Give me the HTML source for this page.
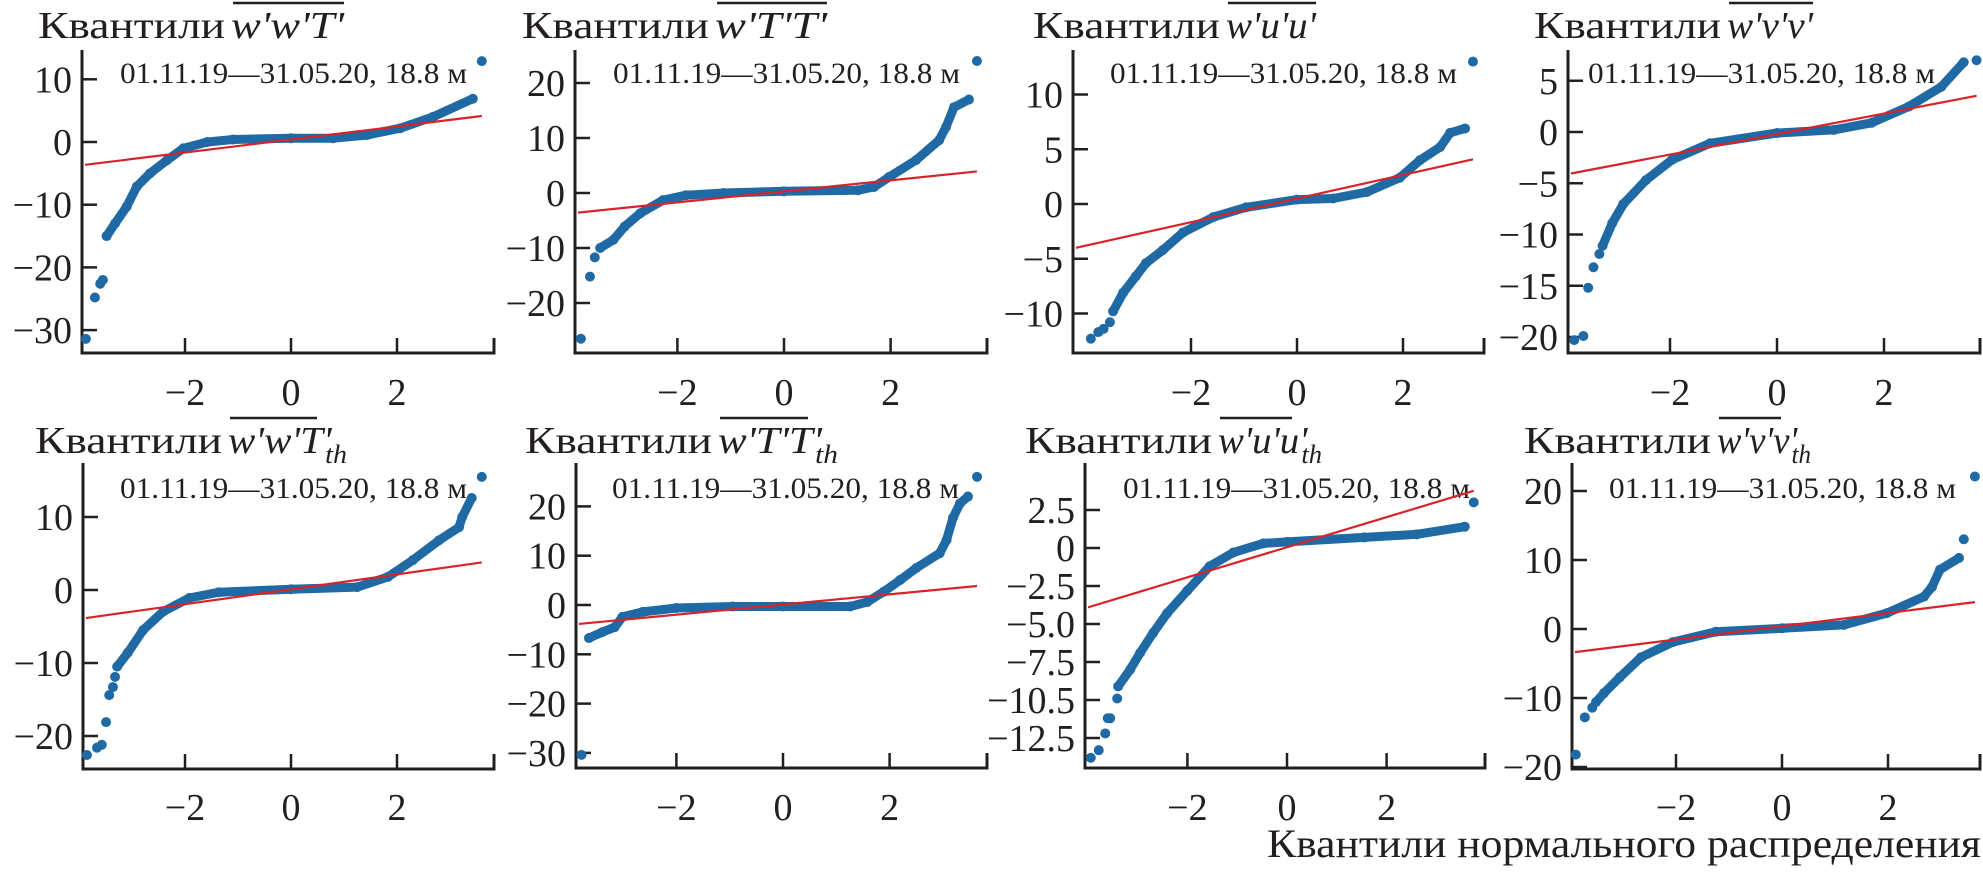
<!DOCTYPE html>
<html><head><meta charset="utf-8">
<style>
html,body{margin:0;padding:0;background:#fff;}
svg{display:block;}
text{font-family:"Liberation Serif","DejaVu Serif",serif;fill:#231f20;}
</style></head>
<body>
<svg id="chart" width="1983" height="872" viewBox="0 0 1983 872" xmlns="http://www.w3.org/2000/svg">
<text x="1267" y="857" font-size="40" textLength="714" lengthAdjust="spacingAndGlyphs">Квантили нормального распределения</text>
</svg>
<script>
// ---- data: theoretical quantiles (X) and sample quantiles (Y) ----
const p1X=[-3.48,-3.32,-3.1,-2.91,-2.66,-2.34,-2.03,-1.58,-1.09,0,0.8,1.43,2.06,2.68,3.43];
const p1Y=[-15,-13,-10.3,-7.1,-5,-2.9,-1,0,0.4,0.6,0.6,1.1,2.2,4,6.9];
const p1OX=[-3.87,-3.7,-3.6,-3.55,3.6];
const p1OY=[-31.4,-24.8,-22.6,-22,12.9];
const p2X=[-3.45,-3.2,-2.99,-2.7,-2.27,-1.84,-1.13,0,1.39,1.69,1.97,2.48,2.91,3.04,3.19,3.47];
const p2Y=[-10,-8.5,-6.1,-3.7,-1.3,-0.4,0,0.3,0.5,1.1,2.9,6,9.6,12,15.6,17];
const p2OX=[-3.81,-3.64,-3.55,3.62];
const p2OY=[-26.5,-15.2,-11.7,24];
const p3X=[-3.47,-3.28,-3.04,-2.85,-2.53,-2.15,-1.58,-0.96,0,0.68,1.32,1.94,2.32,2.7,2.89,3.17];
const p3Y=[-9.8,-8.1,-6.6,-5.4,-4.2,-2.6,-1.2,-0.3,0.4,0.5,1.1,2.4,4,5.2,6.5,6.9];
const p3OX=[-3.89,-3.75,-3.65,-3.53,3.32];
const p3OY=[-12.3,-11.7,-11.4,-10.8,13];
const p4X=[-3.26,-3.08,-2.87,-2.45,-1.96,-1.25,0,1.06,1.77,2.47,3.07,3.49];
const p4Y=[-11.1,-8.9,-7,-4.7,-2.7,-1.1,-0.1,0.2,0.9,2.5,4.4,6.8];
const p4OX=[-3.79,-3.62,-3.53,-3.43,-3.32,3.73];
const p4OY=[-20.3,-19.9,-15.2,-13.2,-11.9,7];
const p5X=[-3.28,-3.08,-2.79,-2.42,-1.92,-1.36,0,1.25,1.83,2.3,2.79,3.17,3.23,3.41];
const p5Y=[-10.5,-8.6,-5.5,-3,-1.1,-0.3,0.1,0.4,1.8,4.1,6.8,8.6,10,12.6];
const p5OX=[-3.85,-3.66,-3.57,-3.49,-3.43,-3.36,-3.32,3.6];
const p5OY=[-22.6,-21.6,-21.2,-18.1,-14.4,-13.3,-11.9,15.5];
const p6X=[-3.64,-3.39,-3.16,-3.01,-2.63,-2,-0.94,0,1.26,1.58,1.89,2.2,2.5,2.94,3.07,3.19,3.32,3.47];
const p6Y=[-6.7,-5.5,-4.5,-2.4,-1.4,-0.6,-0.3,-0.3,-0.3,0.6,2.7,5.1,7.5,10.5,13.2,17.7,20.6,22];
const p6OX=[-3.78,3.64];
const p6OY=[-30.4,26];
const p7X=[-3.39,-3.15,-2.95,-2.69,-2.41,-2,-1.55,-1.08,-0.48,0,1.55,2.61,3.57];
const p7Y=[-9.1,-8,-6.9,-5.6,-4.3,-2.8,-1.2,-0.3,0.3,0.4,0.7,0.9,1.4];
const p7OX=[-3.94,-3.78,-3.65,-3.6,-3.55,-3.41,3.75];
const p7OY=[-13.8,-13.3,-12.2,-11.2,-11.2,-9.9,3];
const p8X=[-3.51,-3.36,-3.06,-2.66,-2.06,-1.25,0,1.17,1.98,2.68,2.83,2.98,3.34];
const p8Y=[-10.6,-9.3,-7,-4.1,-1.9,-0.4,0.1,0.6,2.3,4.7,6.1,8.6,10.3];
const p8OX=[-3.89,-3.72,-3.58,3.43,3.64];
const p8OY=[-18.2,-12.8,-11.4,13,22.1];
// reference line: slope and intercept per panel
const lineSlope=[1.04,1.0,1.08,1.0,1.02,1.03,0.99,0.96];
const lineIntercept=[0.4,0.3,0.5,-0.2,0.1,0.1,0.05,0.4];
// tick values and labels
const xTicks=[-2,0,2];
const xTickLabels=["−2","0","2"];
const yT1=[10,0,-10,-20,-30], yL1=["10","0","−10","−20","−30"];
const yT2=[20,10,0,-10,-20], yL2=["20","10","0","−10","−20"];
const yT3=[10,5,0,-5,-10], yL3=["10","5","0","−5","−10"];
const yT4=[5,0,-5,-10,-15,-20], yL4=["5","0","−5","−10","−15","−20"];
const yT5=[10,0,-10,-20], yL5=["10","0","−10","−20"];
const yT6=[20,10,0,-10,-20,-30], yL6=["20","10","0","−10","−20","−30"];
const yT7=[2.5,0,-2.5,-5,-7.5,-10,-12.5], yL7=["2.5","0","−2.5","−5.0","−7.5","−10.5","−12.5"];
const yT8=[20,10,0,-10,-20], yL8=["20","10","0","−10","−20"];

// ---- layout (pixels) ----
const panels=[
 {id:"ww-T",ax:82,right:494,x0:291,ux:53,top:50,bot:353,y0:142,uy:6.27,X:p1X,Y:p1Y,OX:p1OX,OY:p1OY,yt:yT1,yl:yL1,tx:38,expr:"w'w'T'",sub:"",ew:113,annX:120},
 {id:"wT-T",ax:575,right:987,x0:784,ux:53.3,top:50,bot:353,y0:193,uy:5.5,X:p2X,Y:p2Y,OX:p2OX,OY:p2OY,yt:yT2,yl:yL2,tx:522,expr:"w'T'T'",sub:"",ew:112,annX:613},
 {id:"wu-u",ax:1073,right:1484,x0:1297,ux:53,top:50,bot:353,y0:204,uy:10.95,X:p3X,Y:p3Y,OX:p3OX,OY:p3OY,yt:yT3,yl:yL3,tx:1033,expr:"w'u'u'",sub:"",ew:90,annX:1110},
 {id:"wv-v",ax:1568,right:1980,x0:1777,ux:53.5,top:50,bot:353,y0:132,uy:10.25,X:p4X,Y:p4Y,OX:p4OX,OY:p4OY,yt:yT4,yl:yL4,tx:1534,expr:"w'v'v'",sub:"",ew:86,annX:1588},
 {id:"ww-Tth",ax:83,right:494,x0:291,ux:53,top:463,bot:769,y0:590,uy:7.3,X:p5X,Y:p5Y,OX:p5OX,OY:p5OY,yt:yT5,yl:yL5,tx:35,expr:"w'w'T'",sub:"th",ew:119,annX:120},
 {id:"wT-Tth",ax:576,right:987,x0:783,ux:53.3,top:463,bot:768,y0:605,uy:4.93,X:p6X,Y:p6Y,OX:p6OX,OY:p6OY,yt:yT6,yl:yL6,tx:525,expr:"w'T'T'",sub:"th",ew:120,annX:612},
 {id:"wu-uth",ax:1085,right:1485,x0:1287,ux:49.8,top:463,bot:768,y0:548,uy:15.2,X:p7X,Y:p7Y,OX:p7OX,OY:p7OY,yt:yT7,yl:yL7,tx:1025,expr:"w'u'u'",sub:"th",ew:104,annX:1123},
 {id:"wv-vth",ax:1572,right:1980,x0:1782,ux:53,top:463,bot:769,y0:629,uy:6.9,X:p8X,Y:p8Y,OX:p8OX,OY:p8OY,yt:yT8,yl:yL8,tx:1524,expr:"w'v'v'",sub:"th",ew:94,annX:1609}
];
const NS="http://www.w3.org/2000/svg";
const svg=document.getElementById("chart");
const BLUE="#1f6aa5", RED="#d8232a", INK="#231f20";
function mk(tag,attrs,parent){const e=document.createElementNS(NS,tag);for(const k in attrs)e.setAttribute(k,attrs[k]);(parent||svg).appendChild(e);return e;}

panels.forEach((p,i)=>{
  const g=mk("g",{});
  
  
  const sx=v=>p.x0+v*p.ux, sy=v=>p.y0-v*p.uy;
  const topRow=p.top<300;
  // title
  const tb=topRow?38:453;
  const t1=mk("text",{x:p.tx,y:tb,"font-size":38,textLength:187,lengthAdjust:"spacingAndGlyphs"},g);
  t1.textContent="Квантили";
  
  
  const ex=p.tx+193;
  const t2=mk("text",{x:ex,y:tb,"font-size":38,"font-style":"italic"},g);
  
  
  if(p.sub){
    const a=mk("tspan",{},t2);a.textContent=p.expr;
    const b=mk("tspan",{"font-size":26,dy:10,dx:-6},t2);b.textContent=p.sub;
  } else t2.textContent=p.expr;
  t2.setAttribute("textLength",p.ew);t2.setAttribute("lengthAdjust","spacingAndGlyphs");
  const ol=mk("line",{x1:ex+2,x2:ex+(p.sub?p.ew-30:p.ew),y1:tb-35,y2:tb-35,stroke:INK,"stroke-width":2.5},g);
  
  
  // annotation
  const an=mk("text",{x:p.annX,y:topRow?83:498,"font-size":30,textLength:347,lengthAdjust:"spacingAndGlyphs"},g);
  an.textContent="01.11.19—31.05.20, 18.8 м";
  
  
  // axes
  const axes=mk("path",{d:`M${p.ax},${p.top}V${p.bot}H${p.right}V${p.bot-15}`,fill:"none",stroke:INK,"stroke-width":3},g);
  
  
  xTicks.forEach((v,k)=>{
    const x=sx(v);
    const tk=mk("line",{x1:x,x2:x,y1:p.bot,y2:p.bot-15,stroke:INK,"stroke-width":2.5},g);
    
    
    const tl=mk("text",{x:x,y:topRow?405:820,"font-size":38,"text-anchor":"middle"},g);
    tl.textContent=xTickLabels[k];
    
    
  });
  p.yt.forEach((v,k)=>{
    const y=sy(v);
    const tk=mk("line",{x1:p.ax,x2:p.ax+15,y1:y,y2:y,stroke:INK,"stroke-width":2.5},g);
    
    
    const tl=mk("text",{x:p.ax-10,y:y+13,"font-size":38,"text-anchor":"end"},g);
    tl.textContent=p.yl[k];
    
    
  });
  // sample body
  let d="";
  p.X.forEach((v,k)=>{d+=(k?"L":"M")+sx(v).toFixed(1)+","+sy(p.Y[k]).toFixed(1);});
  const body=mk("path",{d:d,fill:"none",stroke:BLUE,"stroke-width":9,"stroke-linecap":"round","stroke-linejoin":"round"},g);
  
  
  p.X.forEach((v,k)=>{
    const c=mk("circle",{cx:sx(v),cy:sy(p.Y[k]),r:5,fill:BLUE},g);
    
    
  });
  p.OX.forEach((v,k)=>{
    const c=mk("circle",{cx:sx(v),cy:sy(p.OY[k]),r:5,fill:BLUE},g);
    
    
  });
  // reference line
  const xa=(p.ax+3-p.x0)/p.ux, xb=Math.max(...p.OX,...p.X);
  const rl=mk("line",{x1:sx(xa),y1:sy(lineSlope[i]*xa+lineIntercept[i]),x2:sx(xb),y2:sy(lineSlope[i]*xb+lineIntercept[i]),stroke:RED,"stroke-width":2.2},g);
  
  
});
</script>
</body></html>
